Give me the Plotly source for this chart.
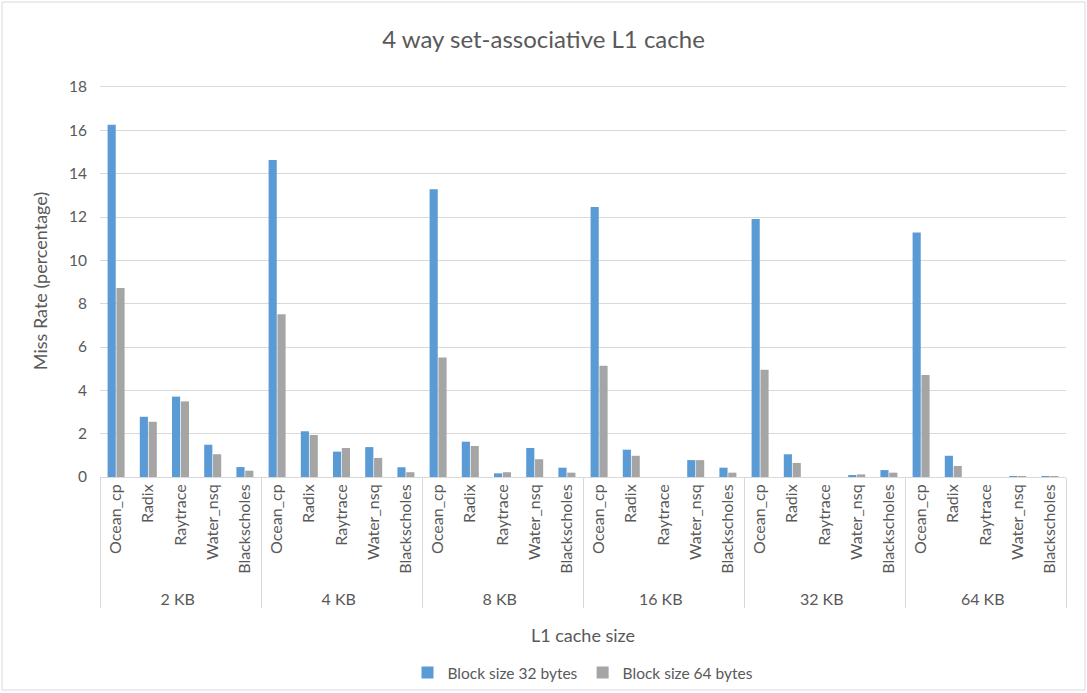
import plotly.graph_objects as go

cache_sizes = ["2 KB", "4 KB", "8 KB", "16 KB", "32 KB", "64 KB"]
benchmarks = ["Ocean_cp", "Radix", "Raytrace", "Water_nsq", "Blackscholes"]

# miss rate (%) per cache size, in benchmark order
block32 = [
    [16.26, 2.78, 3.71, 1.49, 0.46],
    [14.63, 2.11, 1.17, 1.38, 0.45],
    [13.28, 1.63, 0.17, 1.34, 0.43],
    [12.46, 1.26, 0.0, 0.78, 0.43],
    [11.91, 1.05, 0.0, 0.09, 0.32],
    [11.28, 0.98, 0.0, 0.04, 0.03],
]
block64 = [
    [8.72, 2.55, 3.49, 1.05, 0.29],
    [7.51, 1.94, 1.34, 0.88, 0.22],
    [5.52, 1.43, 0.22, 0.82, 0.20],
    [5.14, 0.98, 0.0, 0.78, 0.20],
    [4.95, 0.65, 0.0, 0.12, 0.20],
    [4.71, 0.51, 0.0, 0.02, 0.03],
]
series_names = ["Block size 32 bytes", "Block size 64 bytes"]
series_colors = ["#5B9BD5", "#A5A5A5"]

outer = [s for s in cache_sizes for _ in benchmarks]
inner = [b for _ in cache_sizes for b in benchmarks]

fig = go.Figure()
for name, color, vals in zip(series_names, series_colors, [block32, block64]):
    flat = [v for row in vals for v in row]
    fig.add_trace(go.Bar(x=[outer, inner], y=flat, name=name,
                         marker=dict(color=color, line=dict(width=0))))

grey_text = "#595959"
line_col = "#D9D9D9"
W, H = 1087, 693

# plot area: 392 px tall, 0 at y=477 px, ~21.67 px per unit
top_px, bottom_px = 85, 477
y_max = (bottom_px - top_px) / 21.667
plot_h = bottom_px - top_px


def py(px):
    return (bottom_px - px) / plot_h


fig.update_layout(
    width=W, height=H,
    margin=dict(l=100, r=21, t=top_px, b=H - bottom_px),
    paper_bgcolor="white", plot_bgcolor="white",
    font=dict(family="Lato, Open Sans, sans-serif", color=grey_text, size=14),
    title=dict(text="4 way set-associative L1 cache", x=0.5, xanchor="center",
               y=1 - 40 / H, yanchor="middle",
               font=dict(size=24, color=grey_text)),
    barmode="group", bargap=0.45, bargroupgap=0.08,
    showlegend=True,
    legend=dict(orientation="h", x=0.5, xanchor="center",
                yref="container", y=1 - 673 / H, yanchor="middle",
                bgcolor="rgba(0,0,0,0)",
                font=dict(size=15.5, color=grey_text),
                traceorder="normal", itemwidth=30),
    xaxis=dict(type="multicategory", showline=True, linecolor=line_col, linewidth=1,
               showdividers=True, dividercolor=line_col, dividerwidth=1,
               tickangle=-90, tickfont=dict(size=16, color=grey_text),
               automargin=False, ticks="",
               title=dict(text="L1 cache size", font=dict(size=18, color=grey_text),
                          standoff=22)),
    yaxis=dict(range=[0, y_max], tickvals=list(range(0, 19, 2)),
               showgrid=True, gridcolor=line_col, gridwidth=1,
               zeroline=False, showline=False, ticks="", ticklabelstandoff=12,
               tickfont=dict(size=15.5, color=grey_text), automargin=False,
               title=dict(text="Miss Rate (percentage)", font=dict(size=18, color=grey_text),
                          standoff=16)),
    shapes=[dict(type="rect", xref="paper", yref="paper",
                 x0=(2 - 100) / 966, x1=(1085 - 100) / 966,
                 y0=py(690), y1=py(2),
                 line=dict(color="#D9D9D9", width=1), layer="below")],
)

fig.write_html("out.html")
